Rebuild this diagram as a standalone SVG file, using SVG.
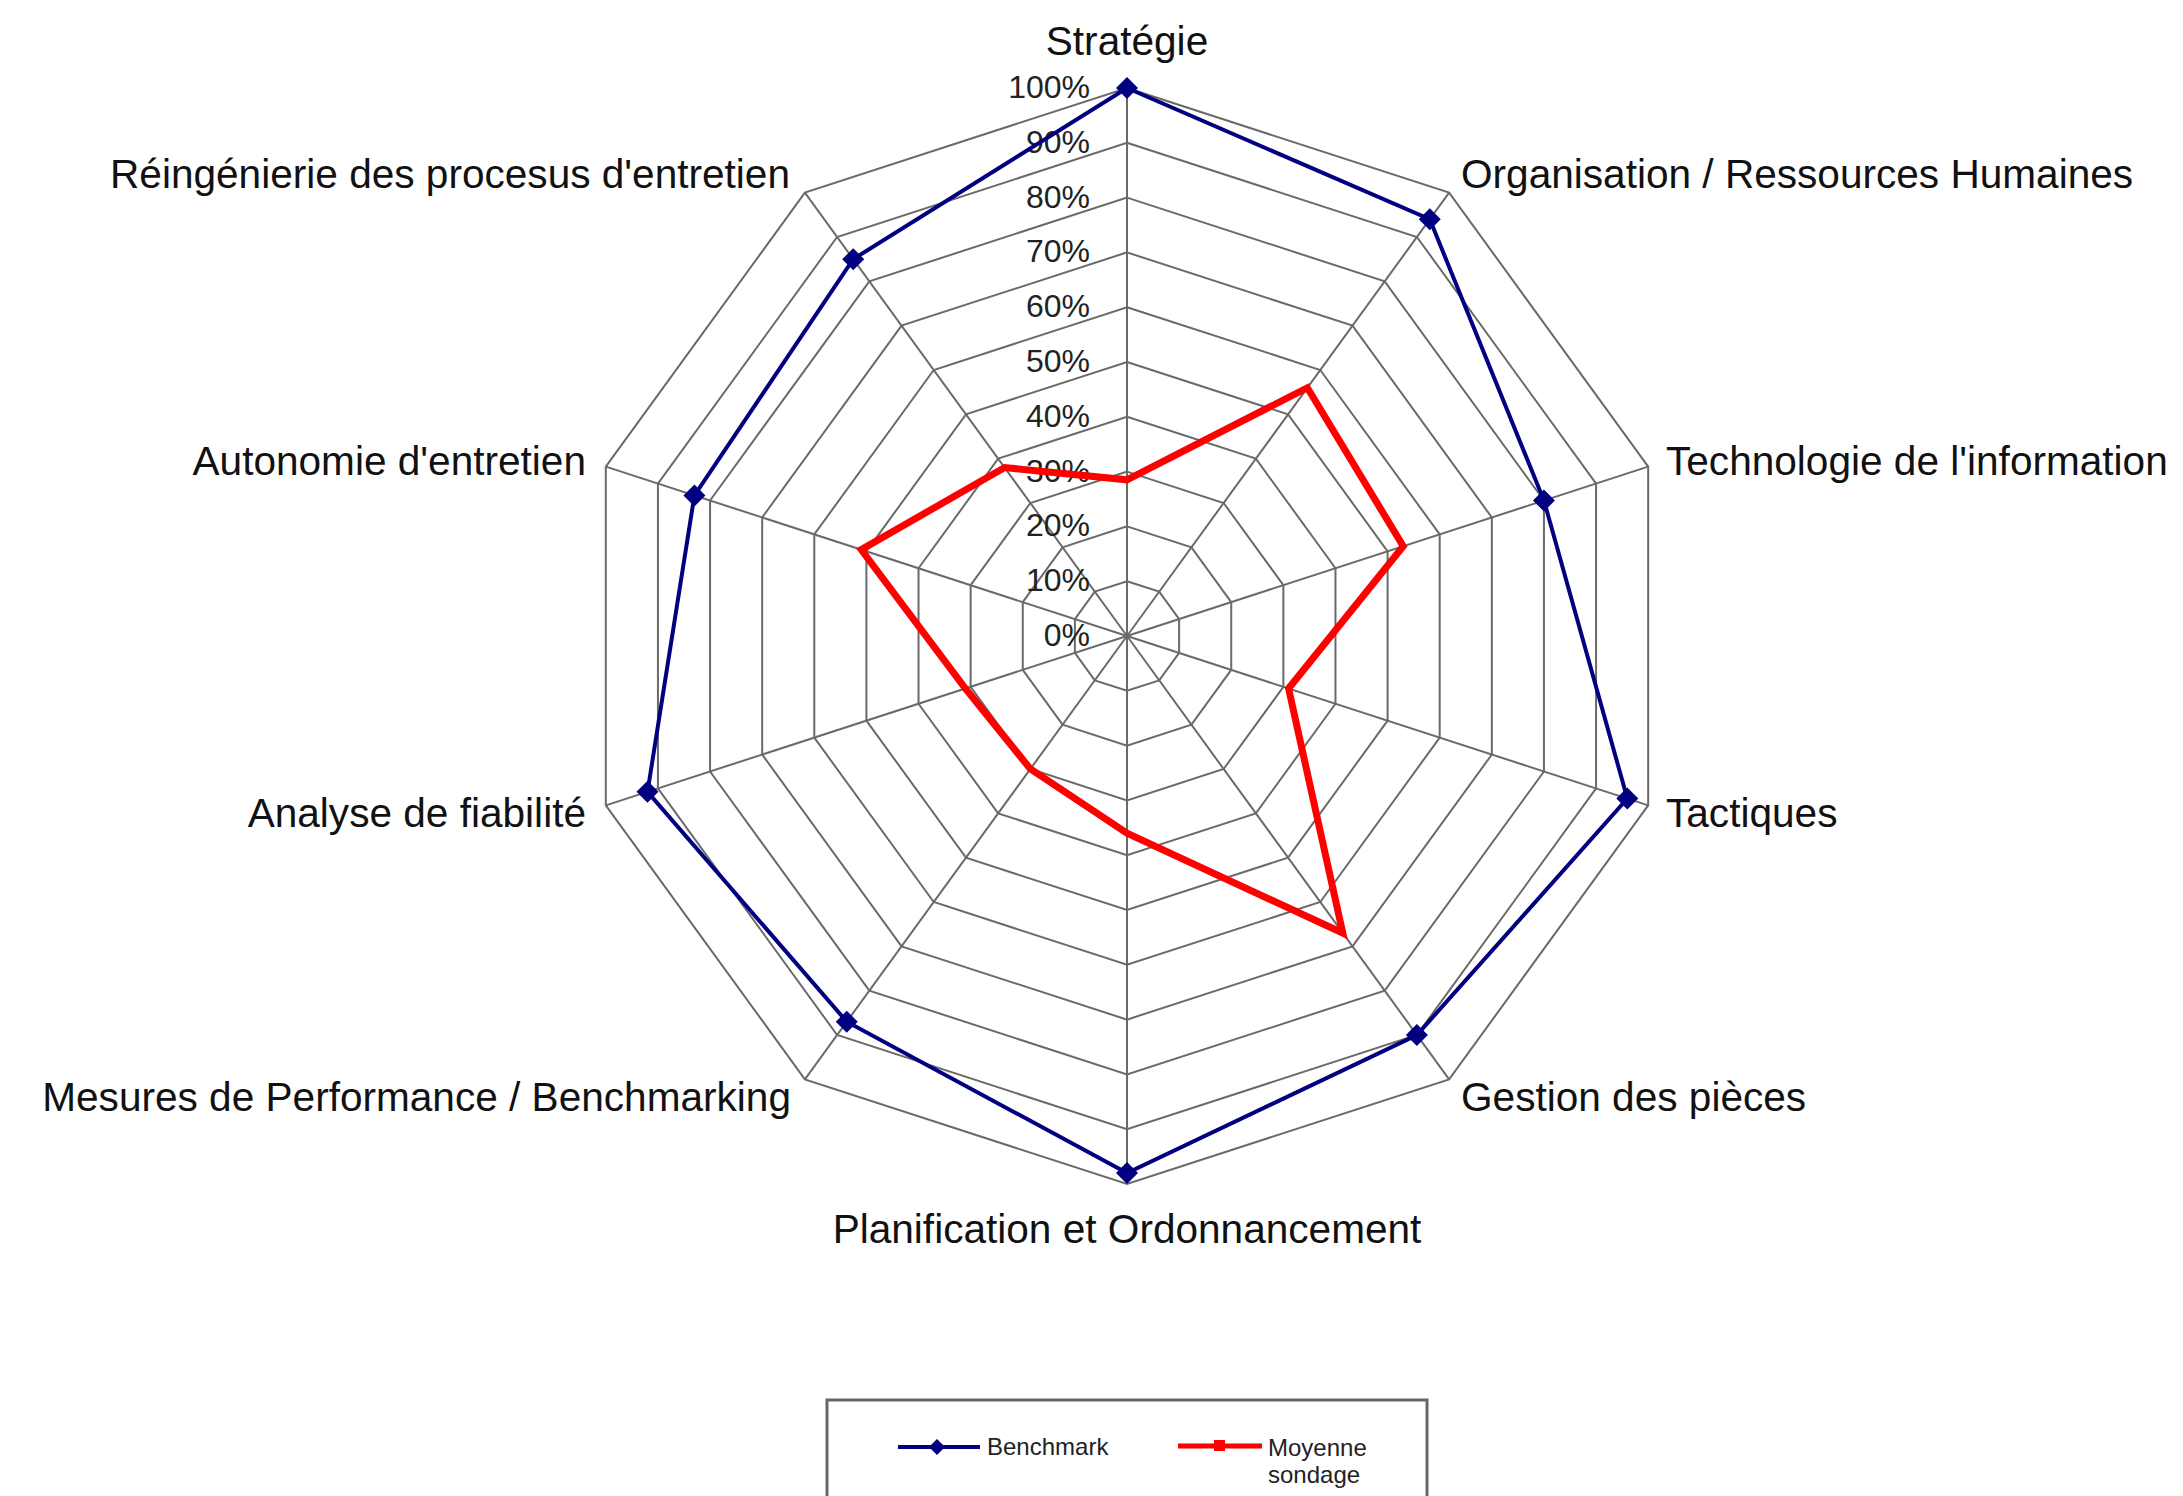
<svg xmlns="http://www.w3.org/2000/svg" xmlns:xlink="http://www.w3.org/1999/xlink" width="2183" height="1496" viewBox="0 0 2183 1496">
  <style>
    .grid { fill: none; stroke: #6a6a6a; stroke-width: 2; vector-effect: non-scaling-stroke; }
    .spoke { stroke: #6a6a6a; stroke-width: 2; }
    .axis-label { font-family: "Liberation Sans", Arial, sans-serif; font-size: 40.6px; fill: #111; }
    .pct { font-family: "Liberation Sans", Arial, sans-serif; font-size: 32px; fill: #222; text-anchor: end; }
    .legend-text { font-family: "Liberation Sans", Arial, sans-serif; font-size: 24px; fill: #222; }
    .bench { fill: none; stroke: #000080; stroke-width: 4; stroke-linejoin: miter; }
    .survey { fill: none; stroke: #ff0000; stroke-width: 7; stroke-linejoin: miter; }
  </style>
  <defs>
    <!-- decagon at 100 % (radius 548), centred on the origin -->
    <polygon id="ring" class="grid" points="0,-548 322.11,-443.34 521.18,-169.34 521.18,169.34 322.11,443.34 0,548 -322.11,443.34 -521.18,169.34 -521.18,-169.34 -322.11,-443.34"/>
    <path id="diamond" d="M0,-11 L11,0 L0,11 L-11,0 Z" fill="#000080"/>
  </defs>

  <rect width="2183" height="1496" fill="#ffffff"/>

  <!-- radar grid -->
  <g id="grid" transform="translate(1127,636)">
    <use xlink:href="#ring" transform="scale(0.1)"/>
    <use xlink:href="#ring" transform="scale(0.2)"/>
    <use xlink:href="#ring" transform="scale(0.3)"/>
    <use xlink:href="#ring" transform="scale(0.4)"/>
    <use xlink:href="#ring" transform="scale(0.5)"/>
    <use xlink:href="#ring" transform="scale(0.6)"/>
    <use xlink:href="#ring" transform="scale(0.7)"/>
    <use xlink:href="#ring" transform="scale(0.8)"/>
    <use xlink:href="#ring" transform="scale(0.9)"/>
    <use xlink:href="#ring"/>
    <line class="spoke" x1="0" y1="0" x2="0" y2="-548"/>
    <line class="spoke" x1="0" y1="0" x2="322.11" y2="-443.34"/>
    <line class="spoke" x1="0" y1="0" x2="521.18" y2="-169.34"/>
    <line class="spoke" x1="0" y1="0" x2="521.18" y2="169.34"/>
    <line class="spoke" x1="0" y1="0" x2="322.11" y2="443.34"/>
    <line class="spoke" x1="0" y1="0" x2="0" y2="548"/>
    <line class="spoke" x1="0" y1="0" x2="-322.11" y2="443.34"/>
    <line class="spoke" x1="0" y1="0" x2="-521.18" y2="169.34"/>
    <line class="spoke" x1="0" y1="0" x2="-521.18" y2="-169.34"/>
    <line class="spoke" x1="0" y1="0" x2="-322.11" y2="-443.34"/>
  </g>

  <!-- scale labels -->
  <g id="scale">
    <text class="pct" x="1090" y="646">0%</text>
    <text class="pct" x="1090" y="591">10%</text>
    <text class="pct" x="1090" y="536">20%</text>
    <text class="pct" x="1090" y="482">30%</text>
    <text class="pct" x="1090" y="427">40%</text>
    <text class="pct" x="1090" y="372">50%</text>
    <text class="pct" x="1090" y="317">60%</text>
    <text class="pct" x="1090" y="262">70%</text>
    <text class="pct" x="1090" y="208">80%</text>
    <text class="pct" x="1090" y="153">90%</text>
    <text class="pct" x="1090" y="98">100%</text>
  </g>

  <!-- category labels -->
  <g id="axis-strategie"><text class="axis-label" x="1127" y="55" text-anchor="middle">Stratégie</text></g>
  <g id="axis-organisation"><text class="axis-label" x="1461" y="188">Organisation / Ressources Humaines</text></g>
  <g id="axis-technologie"><text class="axis-label" x="1666" y="475">Technologie de l'information</text></g>
  <g id="axis-tactiques"><text class="axis-label" x="1666" y="827">Tactiques</text></g>
  <g id="axis-gestion"><text class="axis-label" x="1461" y="1111">Gestion des pièces</text></g>
  <g id="axis-planification"><text class="axis-label" x="1127" y="1243" text-anchor="middle">Planification et Ordonnancement</text></g>
  <g id="axis-mesures"><text class="axis-label" x="791" y="1111" text-anchor="end">Mesures de Performance / Benchmarking</text></g>
  <g id="axis-analyse"><text class="axis-label" x="586" y="827" text-anchor="end">Analyse de fiabilité</text></g>
  <g id="axis-autonomie"><text class="axis-label" x="586" y="475" text-anchor="end">Autonomie d'entretien</text></g>
  <g id="axis-reingenierie"><text class="axis-label" x="790" y="188" text-anchor="end">Réingénierie des procesus d'entretien</text></g>

  <!-- data series -->
  <g id="series" transform="translate(1127,636)">
    <polygon id="series-benchmark" class="bench" points="0,-548 302.78,-416.74 416.94,-135.47 500.33,162.57 289.90,399.01 0,537.04 -280.24,385.71 -479.49,155.79 -432.58,-140.55 -273.79,-376.84"/>
    <polygon id="series-sondage" class="survey" points="0,-156.2 180.38,-248.27 276.23,-89.75 161.57,52.50 215.81,297.04 0,197.28 -96.63,133.00 -161.57,52.50 -265.80,-86.36 -122.40,-168.47"/>
    <g id="benchmark-markers">
      <use xlink:href="#diamond" x="0" y="-548"/>
      <use xlink:href="#diamond" x="302.78" y="-416.74"/>
      <use xlink:href="#diamond" x="416.94" y="-135.47"/>
      <use xlink:href="#diamond" x="500.33" y="162.57"/>
      <use xlink:href="#diamond" x="289.90" y="399.01"/>
      <use xlink:href="#diamond" x="0" y="537.04"/>
      <use xlink:href="#diamond" x="-280.24" y="385.71"/>
      <use xlink:href="#diamond" x="-479.49" y="155.79"/>
      <use xlink:href="#diamond" x="-432.58" y="-140.55"/>
      <use xlink:href="#diamond" x="-273.79" y="-376.84"/>
    </g>
  </g>

  <!-- legend -->
  <g id="legend">
    <rect x="827" y="1400" width="600" height="130" fill="#ffffff" stroke="#666666" stroke-width="3"/>
    <line x1="898" y1="1447" x2="980" y2="1447" stroke="#000080" stroke-width="4"/>
    <path d="M937,1439 L945,1447 L937,1455 L929,1447 Z" fill="#000080"/>
    <text class="legend-text" x="987" y="1455">Benchmark</text>
    <line x1="1178" y1="1446" x2="1262" y2="1446" stroke="#ff0000" stroke-width="5"/>
    <rect x="1214" y="1440" width="11" height="11" fill="#ff0000"/>
    <text class="legend-text" x="1268" y="1456">Moyenne</text>
    <text class="legend-text" x="1268" y="1483">sondage</text>
  </g>
</svg>
